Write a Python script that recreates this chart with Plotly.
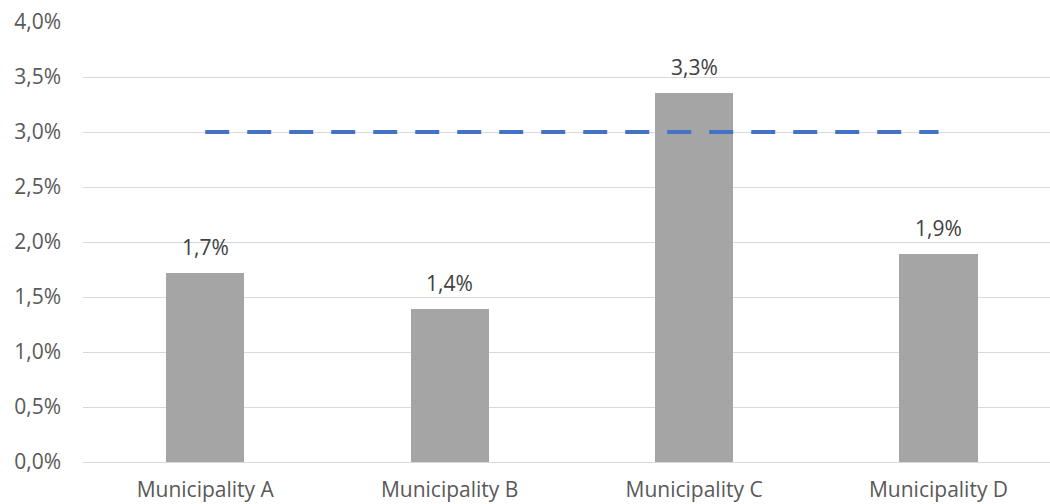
import plotly.graph_objects as go

categories = ["Municipality A", "Municipality B", "Municipality C", "Municipality D"]
values = [0.0172, 0.0139, 0.03355, 0.0189]
value_labels = ["1,7%", "1,4%", "3,3%", "1,9%"]
target = [0.03, 0.03, 0.03, 0.03]
tick_vals = [0, 0.005, 0.01, 0.015, 0.02, 0.025, 0.03, 0.035, 0.04]
tick_text = ["0,0%", "0,5%", "1,0%", "1,5%", "2,0%", "2,5%", "3,0%", "3,5%", "4,0%"]

FONT = "Open Sans"
FS = 21

fig = go.Figure()
fig.add_trace(go.Bar(
    x=categories, y=values, marker=dict(color="#A5A5A5", line=dict(width=0)),
    width=0.32, hoverinfo="skip",
))
fig.add_trace(go.Scatter(
    x=categories, y=target, mode="lines",
    line=dict(color="#4472C4", width=4, dash="24px,18px"),
    hoverinfo="skip",
))
for c, v, t in zip(categories, values, value_labels):
    fig.add_annotation(x=c, y=v, text=t, showarrow=False, yanchor="bottom",
                       yshift=10, font=dict(family=FONT, size=FS, color="#404040"))

fig.update_layout(
    width=1050, height=504,
    margin=dict(l=83, r=0, t=22, b=42),
    paper_bgcolor="white", plot_bgcolor="white",
    showlegend=False,
    bargap=0,
    font=dict(family=FONT, size=FS, color="#595959"),
    xaxis=dict(range=[-0.5, 3.456], showgrid=False, showline=True,
               linecolor="#D9D9D9", linewidth=1, ticks="",
               ticklabelstandoff=9,
               tickfont=dict(family=FONT, size=FS, color="#595959")),
    yaxis=dict(range=[0, 0.04], tickvals=tick_vals, ticktext=tick_text,
               showgrid=True, gridcolor="#D9D9D9", gridwidth=1,
               zeroline=False, showline=False, ticks="",
               ticklabelstandoff=21,
               tickfont=dict(family=FONT, size=FS, color="#595959")),
)
fig.write_html("out.html")
